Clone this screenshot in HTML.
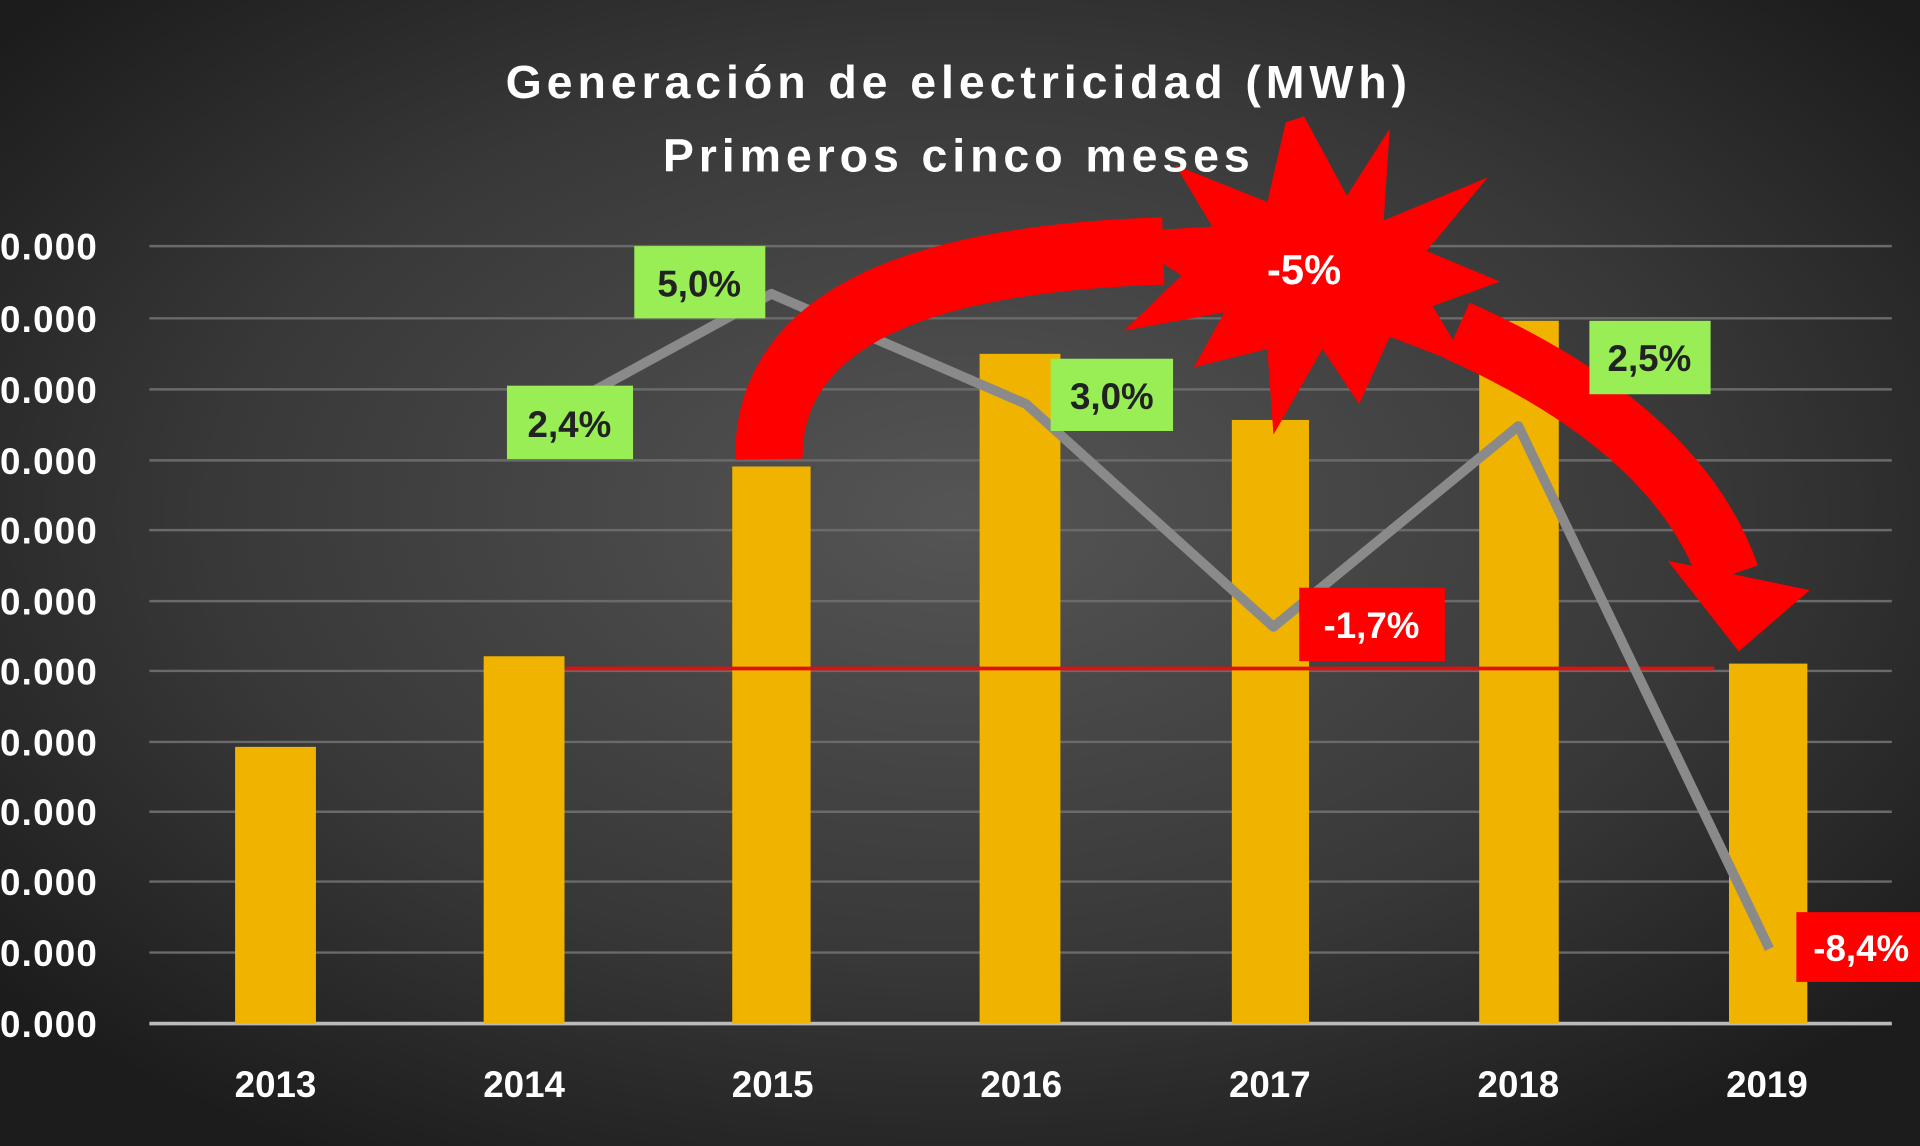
<!DOCTYPE html>
<html><head><meta charset="utf-8"><style>
html,body{margin:0;padding:0;background:#222;}
svg{display:block}
text{font-family:"Liberation Sans",sans-serif;font-weight:bold}
</style></head><body>
<svg width="1920" height="1146" viewBox="0 0 1568 936" preserveAspectRatio="none" xmlns="http://www.w3.org/2000/svg">
<defs>
<radialGradient id="bg" cx="50%" cy="45%" r="65%">
<stop offset="0" stop-color="#555"/>
<stop offset="0.6" stop-color="#383838"/>
<stop offset="1" stop-color="#1c1c1c"/>
</radialGradient>
</defs>
<rect width="1568" height="936" fill="url(#bg)"/>
<g stroke="#6a6a6a" stroke-width="2">
<line x1="122" x2="1545" y1="201" y2="201"/><line x1="122" x2="1545" y1="260" y2="260"/>
<line x1="122" x2="1545" y1="318" y2="318"/><line x1="122" x2="1545" y1="376" y2="376"/>
<line x1="122" x2="1545" y1="433" y2="433"/><line x1="122" x2="1545" y1="491" y2="491"/>
<line x1="122" x2="1545" y1="548" y2="548"/><line x1="122" x2="1545" y1="606" y2="606"/>
<line x1="122" x2="1545" y1="663" y2="663"/><line x1="122" x2="1545" y1="720" y2="720"/>
<line x1="122" x2="1545" y1="778" y2="778"/>
</g>
<line x1="122" x2="1545" y1="836" y2="836" stroke="#bbb" stroke-width="3"/>
<g fill="#fff" font-size="30" letter-spacing="1">
<text x="0" y="212">0.000</text><text x="0" y="271">0.000</text><text x="0" y="329">0.000</text>
<text x="0" y="387">0.000</text><text x="0" y="444">0.000</text><text x="0" y="502">0.000</text>
<text x="0" y="559">0.000</text><text x="0" y="617">0.000</text><text x="0" y="674">0.000</text>
<text x="0" y="731">0.000</text><text x="0" y="789">0.000</text><text x="0" y="847">0.000</text>
</g>
<g fill="#f0b400">
<rect x="192" y="610" width="66" height="226"/>
<rect x="395" y="536" width="66" height="300"/>
<rect x="598" y="381" width="64" height="455"/>
<rect x="800" y="289" width="66" height="547"/>
<rect x="1006" y="343" width="63" height="493"/>
<rect x="1208" y="262" width="65" height="574"/>
<rect x="1412" y="542" width="64" height="294"/>
</g>
<g fill="#fff" font-size="30" text-anchor="middle">
<text x="225" y="896">2013</text><text x="428" y="896">2014</text><text x="631" y="896">2015</text>
<text x="834" y="896">2016</text><text x="1037" y="896">2017</text><text x="1240" y="896">2018</text><text x="1443" y="896">2019</text>
</g>
<line x1="462" x2="1400" y1="546" y2="546" stroke="#e01010" stroke-width="3"/>
<polyline points="478,323 630,240 838,330 1040,512 1240,348 1445,775" fill="none" stroke="#8a8a8a" stroke-width="8" stroke-linejoin="round"/>
<path d="M628,375 Q625,215 950,205" fill="none" stroke="#f00" stroke-width="55"/>
<path d="M1190,270 Q1370,350 1412,470" fill="none" stroke="#f00" stroke-width="50"/>
<polygon points="1362,458 1478,482 1420,532" fill="#f00"/>
<polygon fill="#f00" points="1065,95 1100,160 1135,105 1130,180 1215,145 1165,205 1225,230 1170,250 1200,300 1135,275 1110,330 1080,285 1040,355 1035,285 975,300 1000,255 918,270 965,225 910,190 990,185 960,135 1035,165 1050,100"/>
<text x="1065" y="232" fill="#fff" font-size="34" text-anchor="middle">-5%</text>
<g font-size="30" text-anchor="middle">
<rect x="414" y="315" width="103" height="60" fill="#99ee55"/><text x="465" y="357" fill="#222">2,4%</text>
<rect x="518" y="201" width="107" height="59" fill="#99ee55"/><text x="571" y="242" fill="#222">5,0%</text>
<rect x="858" y="293" width="100" height="59" fill="#99ee55"/><text x="908" y="334" fill="#222">3,0%</text>
<rect x="1298" y="262" width="99" height="60" fill="#99ee55"/><text x="1347" y="303" fill="#222">2,5%</text>
<rect x="1061" y="480" width="119" height="60" fill="#f00"/><text x="1120" y="521" fill="#fff">-1,7%</text>
<rect x="1467" y="745" width="101" height="57" fill="#f00"/><text x="1520" y="785" fill="#fff">-8,4%</text>
</g>
<g fill="#fff" font-size="38" text-anchor="middle" letter-spacing="4">
<text x="783" y="80">Generación de electricidad (MWh)</text>
<text x="783" y="140">Primeros cinco meses</text>
</g>
</svg>
</body></html>
